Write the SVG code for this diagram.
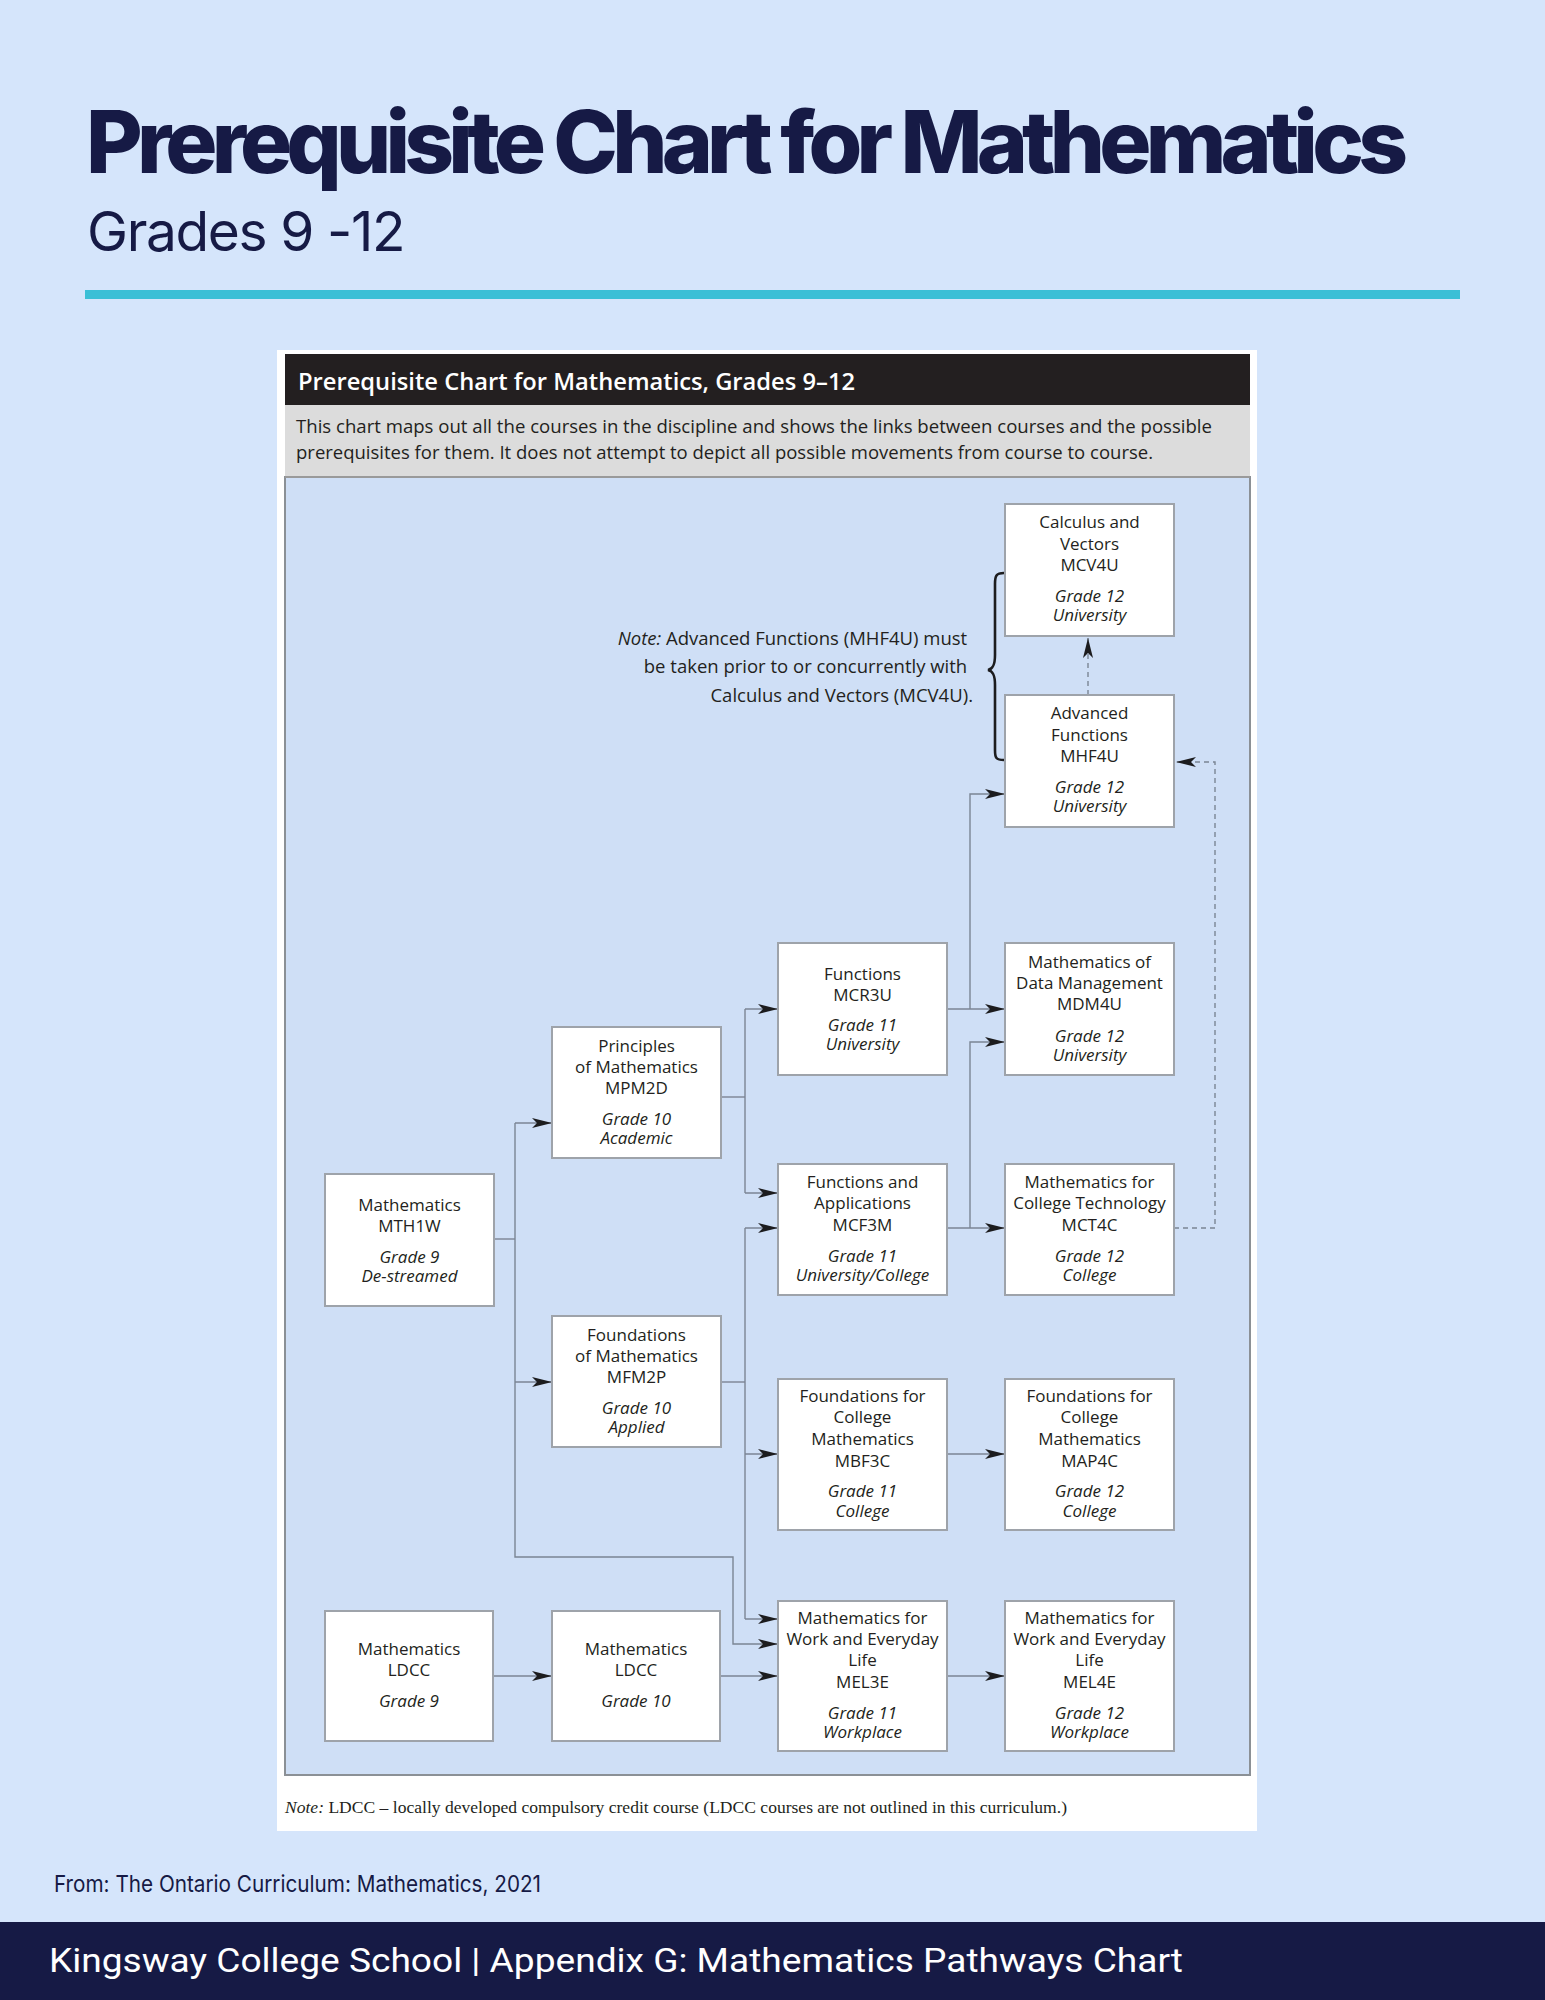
<svg xmlns="http://www.w3.org/2000/svg" width="1545" height="2000" viewBox="0 0 1545 2000">
<defs>
<style>
.box{fill:#ffffff;stroke:#9ea3aa;stroke-width:2}
.t{font-family:"Open Sans","Liberation Sans",sans-serif;font-size:17px;fill:#231f20;text-anchor:middle}
.i{font-style:italic}
.c{fill:none;stroke:#7b8594;stroke-width:1.4}
.d{fill:none;stroke:#7b8594;stroke-width:1.4;stroke-dasharray:5 4}
</style>
<marker id="ah" markerUnits="userSpaceOnUse" markerWidth="20" markerHeight="10" refX="20" refY="5" orient="auto" overflow="visible">
<path d="M0,0 L20,5 L0,10 L5,5 Z" fill="#1c1c1e"/>
</marker>
</defs>
<rect x="0" y="0" width="1545" height="2000" fill="#d5e5fb"/>
<g id="header">
<text x="86" y="173" font-family="Inter,'Liberation Sans',sans-serif" font-weight="800" font-size="87" fill="#161a45" letter-spacing="-4" textLength="1318" lengthAdjust="spacing">Prerequisite Chart for Mathematics</text>
<text x="87" y="251" font-family="Inter,'Liberation Sans',sans-serif" font-weight="400" font-size="55" fill="#161a45" letter-spacing="-1.5" textLength="317" lengthAdjust="spacing">Grades 9 -12</text>
<rect x="85" y="290" width="1375" height="9" fill="#3bbfd6"/>
</g>
<g id="chart-frame">
<rect x="277" y="350" width="980" height="1481" fill="#ffffff"/>
<rect x="285" y="354" width="965" height="51" fill="#231f20"/>
<text x="298" y="390" font-family="'Open Sans','Liberation Sans',sans-serif" font-weight="600" font-size="23" fill="#ffffff" textLength="557" lengthAdjust="spacingAndGlyphs">Prerequisite Chart for Mathematics, Grades 9–12</text>
<rect x="285" y="405" width="965" height="72" fill="#dcdcdc"/>
<text x="296" y="433" font-family="'Open Sans','Liberation Sans',sans-serif" font-size="18" fill="#231f20" textLength="916" lengthAdjust="spacingAndGlyphs">This chart maps out all the courses in the discipline and shows the links between courses and the possible</text>
<text x="296" y="459" font-family="'Open Sans','Liberation Sans',sans-serif" font-size="18" fill="#231f20" textLength="857" lengthAdjust="spacingAndGlyphs">prerequisites for them. It does not attempt to depict all possible movements from course to course.</text>
<rect x="285" y="477" width="965" height="1298" fill="#cfdff6" stroke="#8b9096" stroke-width="2"/>
<line x1="285" y1="477" x2="1250" y2="477" stroke="#9a9a9a" stroke-width="2"/>
<text x="285" y="1813" font-family="'Liberation Serif',serif" font-size="17" fill="#231f20" textLength="782" lengthAdjust="spacingAndGlyphs"><tspan font-style="italic">Note:</tspan> LDCC – locally developed compulsory credit course (LDCC courses are not outlined in this curriculum.)</text>
</g>
<g id="note">
<text font-family="'Open Sans','Liberation Sans',sans-serif" font-size="18.5" fill="#231f20" text-anchor="end">
<tspan x="972" y="645"><tspan font-style="italic">Note:</tspan> Advanced Functions (MHF4U) must</tspan>
<tspan x="972" y="673">be taken prior to or concurrently with</tspan>
<tspan x="973" y="702">Calculus and Vectors (MCV4U).</tspan>
</text>
<path d="M1004,573 C996,573 995,576 995,584 L995,655 C995,665 993,669 988,670 C993,671 995,675 995,685 L995,750 C995,758 996,760 1004,760" fill="none" stroke="#1c1c1e" stroke-width="2.6"/>
</g>
<g id="connectors">
<path class="c" d="M494,1239 H515"/>
<path class="c" d="M515,1123 V1557 H733 V1644 H778" marker-end="url(#ah)"/>
<path class="c" d="M515,1123 H552" marker-end="url(#ah)"/>
<path class="c" d="M515,1382 H552" marker-end="url(#ah)"/>
<path class="c" d="M721,1097 H745"/>
<path class="c" d="M745,1009 V1193"/>
<path class="c" d="M745,1009 H778" marker-end="url(#ah)"/>
<path class="c" d="M745,1193 H778" marker-end="url(#ah)"/>
<path class="c" d="M721,1382 H745"/>
<path class="c" d="M745,1228 V1619"/>
<path class="c" d="M745,1228 H778" marker-end="url(#ah)"/>
<path class="c" d="M745,1454 H778" marker-end="url(#ah)"/>
<path class="c" d="M745,1619 H778" marker-end="url(#ah)"/>
<path class="c" d="M947,1009 H1005" marker-end="url(#ah)"/>
<path class="c" d="M970,1009 V794 H1005" marker-end="url(#ah)"/>
<path class="c" d="M947,1228 H1005" marker-end="url(#ah)"/>
<path class="c" d="M970,1228 V1042 H1005" marker-end="url(#ah)"/>
<path class="c" d="M947,1454 H1005" marker-end="url(#ah)"/>
<path class="c" d="M947,1676 H1005" marker-end="url(#ah)"/>
<path class="c" d="M493,1676 H552" marker-end="url(#ah)"/>
<path class="c" d="M720,1676 H778" marker-end="url(#ah)"/>
<path class="d" d="M1174,1228 H1215 V762 H1176" marker-end="url(#ah)"/>
<path class="d" d="M1088,695 V638" marker-end="url(#ah)"/>
</g>
<g id="MTH1W"><rect class="box" x="325" y="1174" width="169" height="132"/>
<text class="t"><tspan x="409.5" y="1211">Mathematics</tspan><tspan x="409.5" y="1232">MTH1W</tspan><tspan class="i" x="409.5" y="1263">Grade 9</tspan><tspan class="i" x="409.5" y="1282">De-streamed</tspan></text></g>
<g id="LDCC9"><rect class="box" x="325" y="1611" width="168" height="130"/>
<text class="t"><tspan x="409" y="1655">Mathematics</tspan><tspan x="409" y="1676">LDCC</tspan><tspan class="i" x="409" y="1707">Grade 9</tspan></text></g>
<g id="MPM2D"><rect class="box" x="552" y="1027" width="169" height="131"/>
<text class="t"><tspan x="636.5" y="1052">Principles</tspan><tspan x="636.5" y="1073">of Mathematics</tspan><tspan x="636.5" y="1094">MPM2D</tspan><tspan class="i" x="636.5" y="1125">Grade 10</tspan><tspan class="i" x="636.5" y="1144">Academic</tspan></text></g>
<g id="MFM2P"><rect class="box" x="552" y="1316" width="169" height="131"/>
<text class="t"><tspan x="636.5" y="1341">Foundations</tspan><tspan x="636.5" y="1362">of Mathematics</tspan><tspan x="636.5" y="1383">MFM2P</tspan><tspan class="i" x="636.5" y="1414">Grade 10</tspan><tspan class="i" x="636.5" y="1433">Applied</tspan></text></g>
<g id="LDCC10"><rect class="box" x="552" y="1611" width="168" height="130"/>
<text class="t"><tspan x="636" y="1655">Mathematics</tspan><tspan x="636" y="1676">LDCC</tspan><tspan class="i" x="636" y="1707">Grade 10</tspan></text></g>
<g id="MCR3U"><rect class="box" x="778" y="943" width="169" height="132"/>
<text class="t"><tspan x="862.5" y="980">Functions</tspan><tspan x="862.5" y="1001">MCR3U</tspan><tspan class="i" x="862.5" y="1031">Grade 11</tspan><tspan class="i" x="862.5" y="1050">University</tspan></text></g>
<g id="MCF3M"><rect class="box" x="778" y="1164" width="169" height="131"/>
<text class="t"><tspan x="862.5" y="1188">Functions and</tspan><tspan x="862.5" y="1209">Applications</tspan><tspan x="862.5" y="1231">MCF3M</tspan><tspan class="i" x="862.5" y="1262">Grade 11</tspan><tspan class="i" x="862.5" y="1281">University/College</tspan></text></g>
<g id="MBF3C"><rect class="box" x="778" y="1379" width="169" height="151"/>
<text class="t"><tspan x="862.5" y="1402">Foundations for</tspan><tspan x="862.5" y="1423">College</tspan><tspan x="862.5" y="1445">Mathematics</tspan><tspan x="862.5" y="1467">MBF3C</tspan><tspan class="i" x="862.5" y="1497">Grade 11</tspan><tspan class="i" x="862.5" y="1517">College</tspan></text></g>
<g id="MEL3E"><rect class="box" x="778" y="1601" width="169" height="150"/>
<text class="t"><tspan x="862.5" y="1624">Mathematics for</tspan><tspan x="862.5" y="1645">Work and Everyday</tspan><tspan x="862.5" y="1666">Life</tspan><tspan x="862.5" y="1688">MEL3E</tspan><tspan class="i" x="862.5" y="1719">Grade 11</tspan><tspan class="i" x="862.5" y="1738">Workplace</tspan></text></g>
<g id="MCV4U"><rect class="box" x="1005" y="504" width="169" height="132"/>
<text class="t"><tspan x="1089.5" y="528">Calculus and</tspan><tspan x="1089.5" y="550">Vectors</tspan><tspan x="1089.5" y="571">MCV4U</tspan><tspan class="i" x="1089.5" y="602">Grade 12</tspan><tspan class="i" x="1089.5" y="621">University</tspan></text></g>
<g id="MHF4U"><rect class="box" x="1005" y="695" width="169" height="132"/>
<text class="t"><tspan x="1089.5" y="719">Advanced</tspan><tspan x="1089.5" y="741">Functions</tspan><tspan x="1089.5" y="762">MHF4U</tspan><tspan class="i" x="1089.5" y="793">Grade 12</tspan><tspan class="i" x="1089.5" y="812">University</tspan></text></g>
<g id="MDM4U"><rect class="box" x="1005" y="943" width="169" height="132"/>
<text class="t"><tspan x="1089.5" y="968">Mathematics of</tspan><tspan x="1089.5" y="989">Data Management</tspan><tspan x="1089.5" y="1010">MDM4U</tspan><tspan class="i" x="1089.5" y="1042">Grade 12</tspan><tspan class="i" x="1089.5" y="1061">University</tspan></text></g>
<g id="MCT4C"><rect class="box" x="1005" y="1164" width="169" height="131"/>
<text class="t"><tspan x="1089.5" y="1188">Mathematics for</tspan><tspan x="1089.5" y="1209">College Technology</tspan><tspan x="1089.5" y="1231">MCT4C</tspan><tspan class="i" x="1089.5" y="1262">Grade 12</tspan><tspan class="i" x="1089.5" y="1281">College</tspan></text></g>
<g id="MAP4C"><rect class="box" x="1005" y="1379" width="169" height="151"/>
<text class="t"><tspan x="1089.5" y="1402">Foundations for</tspan><tspan x="1089.5" y="1423">College</tspan><tspan x="1089.5" y="1445">Mathematics</tspan><tspan x="1089.5" y="1467">MAP4C</tspan><tspan class="i" x="1089.5" y="1497">Grade 12</tspan><tspan class="i" x="1089.5" y="1517">College</tspan></text></g>
<g id="MEL4E"><rect class="box" x="1005" y="1601" width="169" height="150"/>
<text class="t"><tspan x="1089.5" y="1624">Mathematics for</tspan><tspan x="1089.5" y="1645">Work and Everyday</tspan><tspan x="1089.5" y="1666">Life</tspan><tspan x="1089.5" y="1688">MEL4E</tspan><tspan class="i" x="1089.5" y="1719">Grade 12</tspan><tspan class="i" x="1089.5" y="1738">Workplace</tspan></text></g>
<g id="footer">
<text x="54" y="1892" font-family="Inter,'Liberation Sans',sans-serif" font-size="23" fill="#161a45" textLength="487" lengthAdjust="spacingAndGlyphs">From: The Ontario Curriculum: Mathematics, 2021</text>
<rect x="0" y="1922" width="1545" height="78" fill="#161a45"/>
<text x="49" y="1972" font-family="Roboto,'Liberation Sans',sans-serif" font-size="34" fill="#ffffff" textLength="1134" lengthAdjust="spacingAndGlyphs">Kingsway College School | Appendix G: Mathematics Pathways Chart</text>
</g>
</svg>
